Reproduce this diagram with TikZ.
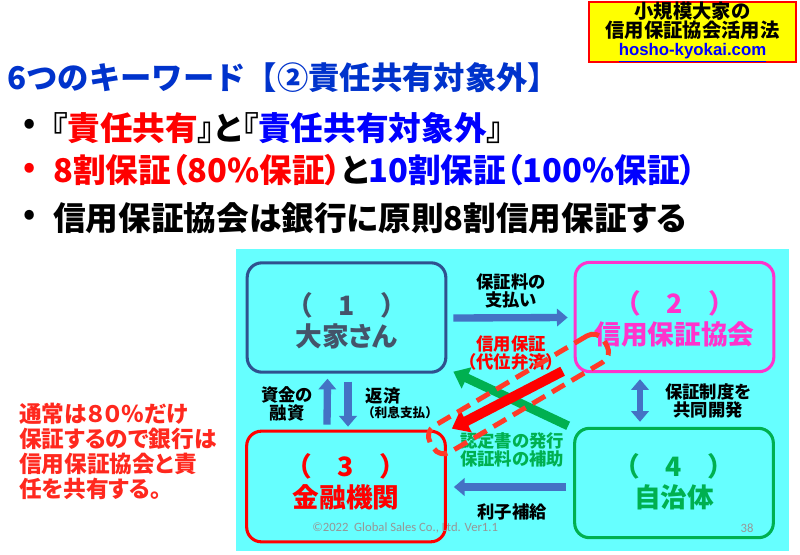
\documentclass[tikz,border=0pt]{standalone}
\usepackage{fontspec}
\setmainfont[RawFeature=+palt]{Noto Sans CJK JP}
\newfontfamily\nopalt{Noto Sans CJK JP}
\newfontfamily\urlfont{Liberation Sans}
\newfontfamily\footfont{Carlito}
\usetikzlibrary{arrows.meta,calc}
\definecolor{cyanbg}{RGB}{102,255,255}
\definecolor{navyb}{RGB}{47,82,143}
\definecolor{slate}{RGB}{68,84,106}
\definecolor{magen}{RGB}{255,51,204}
\definecolor{pred}{RGB}{255,0,0}
\definecolor{pgreen}{RGB}{0,176,80}
\definecolor{ablue}{RGB}{68,114,196}
\definecolor{dashred}{RGB}{255,58,40}
\definecolor{lred}{RGB}{255,40,30}
\definecolor{tblue}{RGB}{0,51,204}
\definecolor{pblue}{RGB}{0,0,255}
\definecolor{fgray}{RGB}{150,150,150}
\definecolor{yel}{RGB}{255,255,0}
\tikzset{
  rbox/.style={draw, line width=2.3pt, rounded corners=11pt, minimum width=149pt, minimum height=82pt, inner sep=0pt},
  boxtext/.style={font=\fontsize{20}{23}\bfseries\selectfont, align=center},
  lab/.style={font=\fontsize{13}{13.8}\bfseries\selectfont, align=center},
  barrow/.style={draw=ablue, line width=5.5pt, -{Triangle[length=8pt,width=13pt]}},
  big/.style={font=\fontsize{24.5}{28}\bfseries\selectfont, anchor=west, inner sep=0pt},
  dot/.style={font=\fontsize{23}{26}\bfseries\selectfont, inner sep=0pt},
}
\begin{document}
\begin{tikzpicture}[x=0.75pt,y=-0.75pt]
\useasboundingbox (0,0) rectangle (800,554);
\fill[white] (0,0) rectangle (800,554);

% top-right box
\node[draw=pred, fill=yel, line width=1.5pt, minimum width=155pt, minimum height=45pt, inner sep=0pt,
      align=center, font=\fontsize{14.5}{14}\bfseries\selectfont] (brand) at (692.5,32)
  {小規模大家の\\信用保証協会活用法\\{\urlfont\fontsize{12.6}{14}\selectfont\color{pblue}\underline{hosho-kyokai.com}}};

% title and bullets
\node[big, font=\nopalt\fontsize{23.5}{26}\bfseries\selectfont, text=tblue] (title) at (7,78) {6つのキーワード【②責任共有対象外】};
\node[dot] (d1) at (30,126) {•};
\node[big] (l1) at (51,128) {『\textcolor{pred}{責任共有}』と『\textcolor{pblue}{責任共有対象外}』};
\node[dot, text=pred] (d2) at (30,170) {•};
\node[big] (l2) at (53,170) {\textcolor{pred}{8割保証（80\%保証）}と\textcolor{pblue}{10割保証（100\%保証）}};
\node[dot] (d3) at (30,217) {•};
\node[big] (l3) at (53,218) {信用保証協会は銀行に原則8割信用保証する};

% left note
\node[anchor=west, align=left, text=lred, inner sep=0pt, font=\fontsize{17}{18.75}\bfseries\selectfont] (note) at (19,451)
  {通常は８０％だけ\\保証するので銀行は\\信用保証協会と責\\任を共有する。};

% diagram background
\fill[cyanbg] (236,249) rectangle (789,551);

% boxes
\node[rbox, draw=navyb] (b1) at (346.5,317.5) {};
\node[rbox, draw=magen] (b2) at (674.5,317) {};
\node[rbox, draw=pred, minimum height=83pt] (b3) at (346,486.5) {};
\node[rbox, draw=pgreen, minimum height=82pt] (b4) at (674,483) {};

\node[boxtext, text=slate] (t1) at (346.5,321) {（\hspace{1em}1\hspace{1em}）\\大家さん};
\node[boxtext, text=magen] (t2) at (674.5,319) {（\hspace{1em}2\hspace{1em}）\\信用保証協会};
\node[boxtext, text=pred] (t3) at (346,482) {（\hspace{1em}3\hspace{1em}）\\金融機関};
\node[boxtext, text=pgreen] (t4) at (674,482) {（\hspace{1em}4\hspace{1em}）\\自治体};

% footer
\node[anchor=west, inner sep=0pt, text=fgray, font=\footfont\fontsize{9.5}{11}\selectfont] (foot) at (312,528) {©2022\ \ Global Sales Co., Ltd. Ver1.1};
\node[inner sep=0pt, text=fgray, font=\footfont\fontsize{9.5}{11}\selectfont] (pg) at (747,528) {38};

% labels
\node[lab] (lpay) at (511,291) {保証料の\\支払い};
\node[lab] (lfin) at (287,404) {資金の\\融資};
\node[lab] (lrep) at (383,396) {返済};
\node[lab, font=\nopalt\fontsize{9.5}{11}\bfseries\selectfont] (lint) at (400,413) {（利息支払）};
\node[lab] (ldev) at (708,401) {保証制度を\\共同開発};
\node[lab, text=pred, font=\nopalt\fontsize{13}{13.8}\bfseries\selectfont] (lgua) at (511,353) {信用保証\\（代位弁済）};
\node[lab, text=pgreen] (lcert) at (512,450) {認定書の発行\\保証料の補助};
\node[lab] (lsub) at (512,512) {利子補給};

% blue arrows
\draw[barrow] ([shift={(6,0.5)}]b1.east) -- ([shift={(-6,0.5)}]b2.west);
\draw[barrow] ([shift={(-19,-5)}]b3.north) -- ([shift={(-19,5)}]b1.south);
\draw[barrow] ([shift={(1.5,8)}]b1.south) -- ([shift={(2,-3)}]b3.north);
\draw[draw=ablue, line width=5pt, {Triangle[length=8pt,width=13pt]}-{Triangle[length=8pt,width=13pt]}]
  ([shift={(-34.5,6)}]b2.south) -- ([shift={(-34,-5)}]b4.north);
\draw[barrow] ([shift={(-7,4)}]b4.west) -- ([shift={(7,0.5)}]b3.east);

% green and red arrows
\draw[draw=pgreen, line width=6.75pt, -{Triangle[length=11pt,width=17pt]}]
  ([shift={(-5,-1)}]b4.north west) -- ([shift={(6,-2)}]b1.south east);
\draw[draw=pred, line width=7.5pt, -{Triangle[length=12pt,width=18pt]}]
  ([shift={(-11,-2)}]b2.south west) -- ([shift={(5,-1)}]b3.north east);

% dashed guarantee outline
\node[draw=dashred, line width=3.7pt, dash pattern=on 11pt off 6pt, rounded corners=9pt,
      minimum width=151pt, minimum height=23pt, rotate=30.5] (dash) at (518.5,394) {};
\end{tikzpicture}
\end{document}
